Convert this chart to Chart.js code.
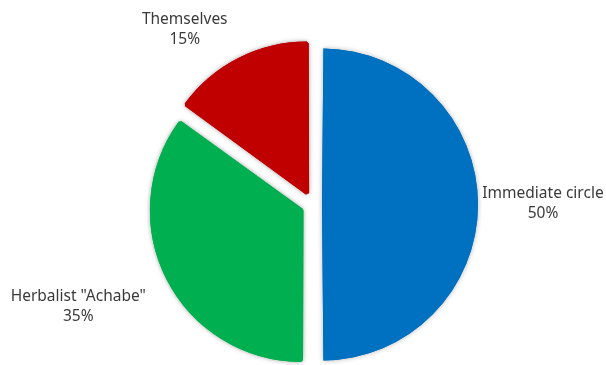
<!DOCTYPE html>
<html>
  <head>
    <title>Pie chart</title>
    <script src="https://cdn.jsdelivr.net/npm/chart.js"></script>
    <style>
      body {
        margin: 0;
        background: #fff;
      }
      canvas {
        display: block;
      }
    </style>
  </head>
  <body>
    <canvas id="pieChart" width="606" height="365"></canvas>
    <script>
      const categories = ["Immediate circle", 'Herbalist "Achabe"', "Themselves"];
      const shares = [50, 35, 15];
      const sliceColors = ["#0070C0", "#00B050", "#C00000"];

      // soft grey glow: draw the slices once with a shadow, the normal pass covers it
      const shadowPlugin = {
        id: "sliceShadow",
        beforeDatasetsDraw(chart) {
          const ctx = chart.ctx;
          ctx.save();
          ctx.shadowColor = "rgba(0, 0, 0, 0.3)";
          ctx.shadowBlur = 5;
          ctx.shadowOffsetX = 0;
          ctx.shadowOffsetY = 0;
          chart.getDatasetMeta(0).controller.draw();
          ctx.restore();
        },
      };

      // name + percentage outside each slice
      const outsideLabels = {
        id: "outsideLabels",
        afterDraw(chart, args, opts) {
          const ctx = chart.ctx;
          const data = chart.data.datasets[0].data;
          const total = data.reduce((a, b) => a + b, 0);
          ctx.save();
          ctx.font = opts.font;
          ctx.fillStyle = opts.color;
          ctx.textAlign = "center";
          ctx.textBaseline = "alphabetic";
          chart.getDatasetMeta(0).data.forEach((arc, i) => {
            const p = arc.getProps(["x", "y", "startAngle", "endAngle", "outerRadius"], true);
            const mid = (p.startAngle + p.endAngle) / 2;
            const dist = p.outerRadius + opts.gap;
            const nudge = opts.nudge[i];
            const cx = p.x + Math.cos(mid) * dist + nudge[0];
            const cy = p.y + Math.sin(mid) * dist + nudge[1];
            const pct = Math.round((data[i] / total) * 100) + "%";
            ctx.fillText(chart.data.labels[i], cx, cy - 10 + 5.5);
            ctx.fillText(pct, cx, cy + 10 + 5.5);
          });
          ctx.restore();
        },
      };

      const ctx = document.getElementById("pieChart").getContext("2d");
      const pieChart = new Chart(ctx, {
        type: "pie",
        data: {
          labels: categories,
          datasets: [
            {
              data: shares,
              backgroundColor: sliceColors,
              borderColor: sliceColors,
              borderWidth: [0, 4, 4],
              offset: [36, 52, 52],
            },
          ],
        },
        options: {
          responsive: false,
          animation: false,
          radius: 147,
          clip: false,
          layout: {
            padding: { left: 20, right: 0, top: 44, bottom: 0 },
          },
          plugins: {
            legend: { display: false },
            tooltip: { enabled: false },
            outsideLabels: {
              font: "15.5px 'Noto Sans'",
              color: "#3a3a3a",
              gap: 21,
              nudge: [
                [62, -2],
                [-85, 25],
                [-52, -26],
              ],
            },
          },
        },
        plugins: [shadowPlugin, outsideLabels],
      });
    </script>
  </body>
</html>
